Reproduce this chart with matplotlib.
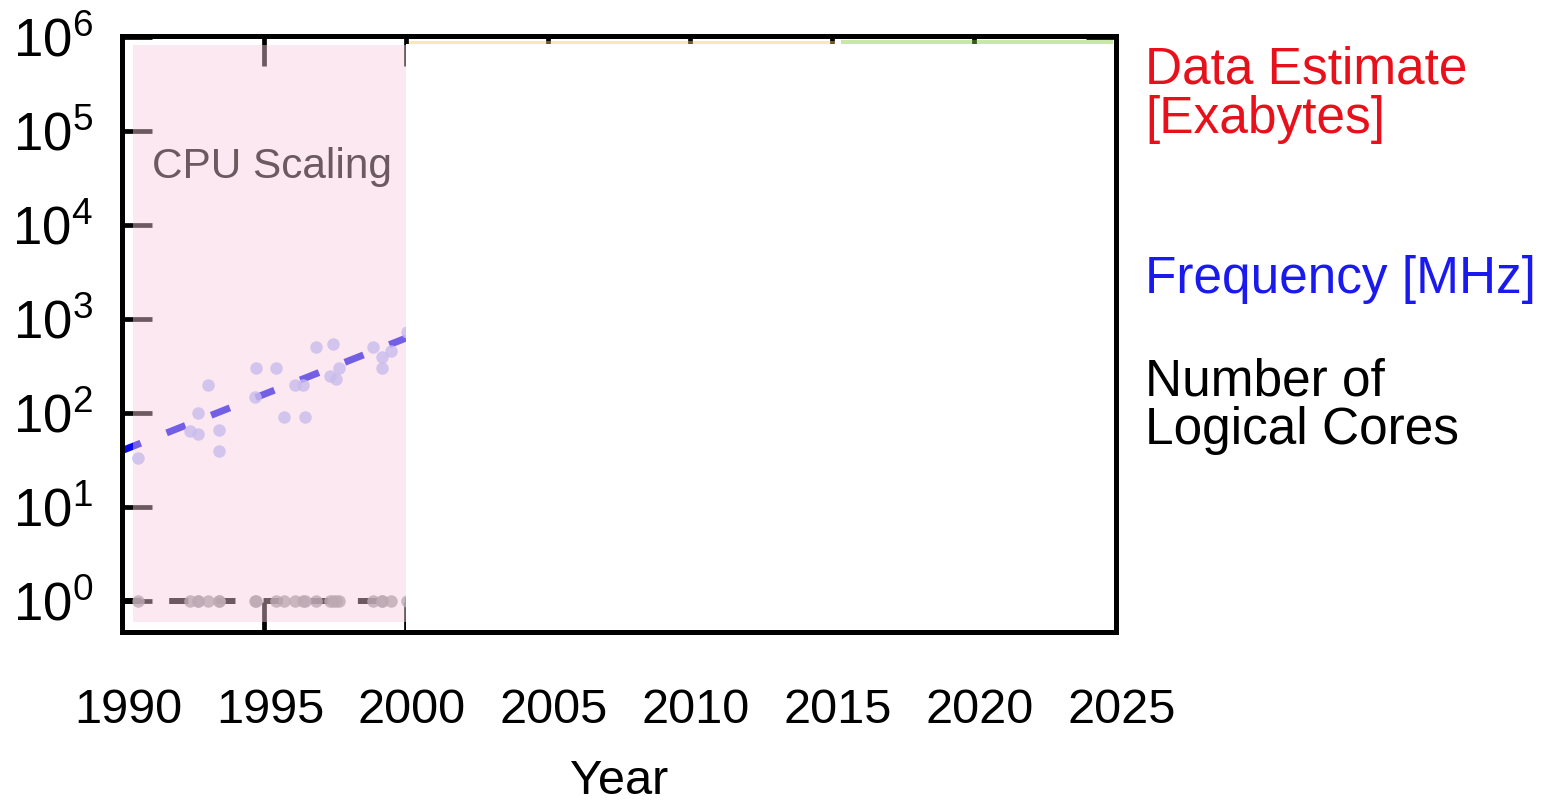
import matplotlib
matplotlib.use("Agg")
import matplotlib.pyplot as plt
import matplotlib.transforms as mtransforms
from matplotlib.ticker import NullLocator, LogLocator

plt.rcParams["font.family"] = ["Liberation Sans", "DejaVu Sans"]
plt.rcParams["mathtext.fontset"] = "custom"
plt.rcParams["mathtext.rm"] = "Liberation Sans"

# single-core CPUs: release year, clock [MHz], logical cores
cpu_year = [1990.57, 1992.39, 1992.69, 1992.69, 1993.02, 1993.42, 1993.42,
            1994.71, 1994.68, 1995.42, 1995.71, 1996.09, 1996.36, 1996.44,
            1996.82, 1997.44, 1997.32, 1997.54, 1997.63, 1998.83, 1999.17,
            1999.14, 1999.47, 2000.05]
cpu_mhz = [33, 65, 60, 100, 200, 66, 40, 300, 150, 300, 90, 200, 200, 90,
           500, 550, 250, 233, 300, 500, 400, 300, 460, 733]
cpu_cores = [1] * len(cpu_year)

# exponential fit of the clock rate and the core count trend
fit_year = [1990, 2000]
fit_mhz = [40, 630]
fit_cores = [1, 1]

# eras shaded behind the data
era_start = [1990.4, 2000.1, 2015.3]
era_end = [2000.0, 2015.1, 2024.9]
era_color = ["#facbdd", "#f6cb5e", "#82cb39"]
era_label = "CPU Scaling"

years = [1990, 1995, 2000, 2005, 2010, 2015, 2020, 2025]

fig = plt.figure(figsize=(15.43, 8.02), dpi=100)
ax = fig.add_axes([0.0791, 0.2120, 0.6442, 0.7431])
ax.set_yscale("log")
ax.set_xlim(1990, 2025)
ax.set_ylim(0.47, 1.03e6)

ax.plot(fit_year, fit_cores, color="black", lw=4.3, dashes=(3.2, 4.7),
        dash_capstyle="butt", zorder=2)
ax.plot(cpu_year, cpu_cores, "o", color="#8f9094", ms=9, mew=0, alpha=0.8, zorder=2)
ax.plot(fit_year, fit_mhz, color="#0a0aee", lw=5, dashes=(2.9, 4.0),
        dash_capstyle="butt", zorder=2)
ax.plot(cpu_year, cpu_mhz, "o", color="#a0b0fb", ms=9, mew=0, alpha=0.8, zorder=2)

ax.text(1991.05, 3.2e4, era_label, fontsize=30.5, color="black",
        va="baseline", ha="left", zorder=2)

# era bands (pastel, semi-transparent so ticks and text show through)
tops = [0.985, 0.9916, 0.993]
for x0, x1, c, t in zip(era_start, era_end, era_color, tops):
    ax.axvspan(x0, x1, ymin=0.017 if x0 < 2000 else 0.0, ymax=t,
               color=c, alpha=0.44, lw=0, zorder=3)

# later years not yet revealed
ax.axvspan(2000.0, 2025, ymin=0, ymax=0.9866, color="white", lw=0, zorder=4)

for s in ax.spines.values():
    s.set_linewidth(3.6)
    s.set_zorder(5)

ax.set_xticks(years)
ax.yaxis.set_major_locator(LogLocator(base=10, numticks=10))
ax.yaxis.set_minor_locator(NullLocator())
ax.tick_params(direction="in", length=21.5, width=3.4, top=True, right=True)
ax.tick_params(axis="x", pad=40, labelsize=35)
ax.tick_params(axis="y", pad=21, labelsize=38)
ax.set_xlabel("Year", fontsize=35, labelpad=19)

shift = mtransforms.ScaledTranslation(0.06, 0, fig.dpi_scale_trans)
for lab in ax.get_xticklabels():
    lab.set_transform(lab.get_transform() + shift)

fig.text(1145 / 1543, 1 - 46 / 802, "Data Estimate\n[Exabytes]", color="#e8101a",
         fontsize=37, va="top", ha="left", linespacing=1.0)
fig.text(1145 / 1543, 1 - 255 / 802, "Frequency [MHz]", color="#1a1aee",
         fontsize=37, va="top", ha="left")
fig.text(1145 / 1543, 1 - 357 / 802, "Number of\nLogical Cores", color="black",
         fontsize=37, va="top", ha="left", linespacing=1.0)

fig.savefig("out.png", dpi=100)
